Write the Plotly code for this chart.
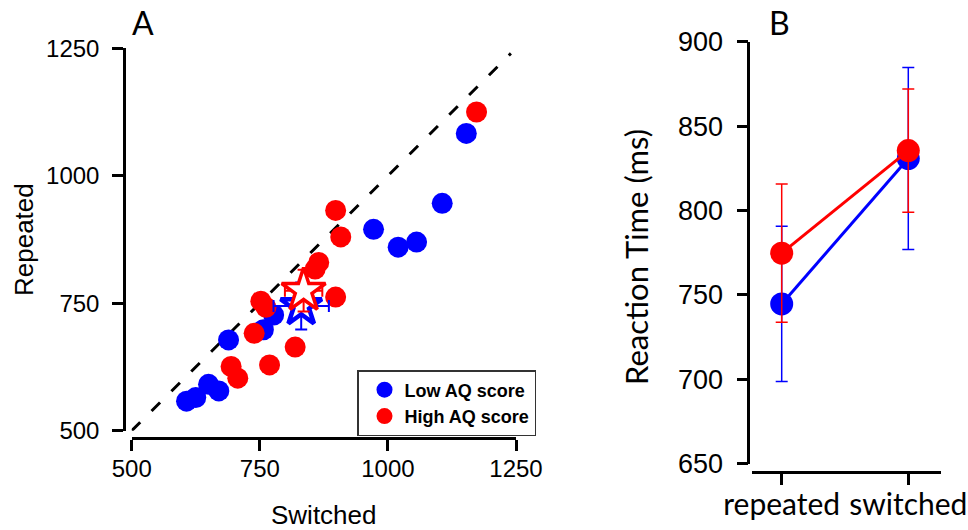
import plotly.graph_objects as go

W, H = 968, 530

# Panel A: individual participants (switched vs repeated RT, ms)
low_switched = [1153, 1106, 972, 1020, 1056, 689, 777, 757, 607, 625, 650, 670]
low_repeated = [1083, 946, 895, 860, 870, 678, 727, 698, 558, 565, 591, 578]
high_switched = [1173, 898, 908, 865, 858, 898, 752, 762, 739, 819, 769, 694, 707]
high_repeated = [1125, 932, 880, 830, 817, 762, 754, 742, 691, 664, 629, 626, 603]

# Panel B: group means and error bars (ms)
conditions = ["repeated", "switched"]
low_mean = [744.6, 830.8]
low_err = [46.0, 54.0]
high_mean = [774.7, 835.5]
high_err = [41.0, 36.5]

identity = [500, 1240]
a_ticks = [500, 750, 1000, 1250]
b_ticks = [650, 700, 750, 800, 850, 900]

BLUE = "#0000FF"
RED = "#FF0000"
ARIAL = "Liberation Sans, Arial, sans-serif"
HUMAN = "Lato, Open Sans, sans-serif"


def px(x):
    return x / W


def py(y):
    return 1 - y / H


fig = go.Figure()

# identity line
fig.add_trace(go.Scatter(x=identity, y=identity, mode="lines",
                         line=dict(color="black", width=3, dash="12px,16px"),
                         showlegend=False, hoverinfo="skip"))
fig.add_trace(go.Scatter(x=low_switched, y=low_repeated, mode="markers", name="Low AQ score",
                         marker=dict(color=BLUE, size=21, line=dict(width=0))))
fig.add_trace(go.Scatter(x=high_switched, y=high_repeated, mode="markers", name="High AQ score",
                         marker=dict(color=RED, size=21, line=dict(width=0))))
# group means as stars
fig.add_trace(go.Scatter(x=[low_mean[1]], y=[low_mean[0]], mode="markers", showlegend=False,
                         error_x=dict(type="data", array=[low_err[1]], color=BLUE, thickness=2, width=6),
                         error_y=dict(type="data", array=[low_err[0]], color=BLUE, thickness=2, width=6),
                         marker=dict(symbol="star", size=31, color="white", line=dict(color=BLUE, width=4.5))))
fig.add_trace(go.Scatter(x=[high_mean[1]], y=[high_mean[0]], mode="markers", showlegend=False,
                         error_x=dict(type="data", array=[high_err[1]], color=RED, thickness=2, width=6),
                         error_y=dict(type="data", array=[high_err[0]], color=RED, thickness=2, width=6),
                         marker=dict(symbol="star", size=33, color="white", line=dict(color=RED, width=3.5))))

# Panel B
xb = [1, 2]
fig.add_trace(go.Scatter(x=xb, y=low_mean, mode="lines+markers", showlegend=False,
                         xaxis="x2", yaxis="y2",
                         line=dict(color=BLUE, width=3),
                         marker=dict(color=BLUE, size=23),
                         error_y=dict(type="data", array=low_err, color=BLUE, thickness=1.5, width=6)))
fig.add_trace(go.Scatter(x=xb, y=high_mean, mode="lines+markers", showlegend=False,
                         xaxis="x2", yaxis="y2",
                         line=dict(color=RED, width=3),
                         marker=dict(color=RED, size=23),
                         error_y=dict(type="data", array=high_err, color=RED, thickness=1.5, width=6)))

axis_common = dict(showgrid=False, zeroline=False, showline=True, linecolor="black", linewidth=2.5,
                   ticks="outside", ticklen=11, tickwidth=2.5, tickcolor="black",
                   automargin=False, tickangle=0)

fig.update_layout(
    width=W, height=H, margin=dict(l=0, r=0, t=0, b=0, autoexpand=False),
    paper_bgcolor="white", plot_bgcolor="white",
    xaxis=dict(domain=[px(131.7), px(516)], range=[500, 1250], anchor="free", position=py(438.3),
               tickvals=a_ticks, tickfont=dict(family=ARIAL, size=24, color="black"),
               ticklabelstandoff=-3, **axis_common),
    yaxis=dict(domain=[py(430.7), py(48.3)], range=[500, 1250], anchor="free", position=px(124),
               tickvals=a_ticks, tickfont=dict(family=ARIAL, size=24, color="black"),
               ticklabelstandoff=8, **axis_common),
    xaxis2=dict(domain=[px(751.7), px(940.7)], range=[0.763, 2.256], anchor="free", position=py(472.3),
                tickvals=xb, ticktext=conditions, tickfont=dict(family=HUMAN, size=30, color="black"),
                ticklabelstandoff=-6, **axis_common),
    yaxis2=dict(domain=[py(463.5), py(41.8)], range=[650, 900], anchor="free", position=px(748.3),
                tickvals=b_ticks, tickfont=dict(family=ARIAL, size=27, color="black"),
                ticklabelstandoff=8, **axis_common),
    legend=dict(x=px(357), y=py(370), xanchor="left", yanchor="top",
                bgcolor="white", bordercolor="#333333", borderwidth=1.5,
                font=dict(family=ARIAL, size=18, color="black", weight="bold"),
                itemsizing="trace", tracegroupgap=0, indentation=6),
    showlegend=True,
)

annotations = [
    dict(text="A", x=px(143), y=py(23), font=dict(family=HUMAN, size=32, color="black")),
    dict(text="B", x=px(779), y=py(23), font=dict(family=HUMAN, size=32, color="black")),
    dict(text="Switched", x=px(324), y=py(515), font=dict(family=ARIAL, size=26, color="black")),
    dict(text="Repeated", x=px(24), y=py(240), textangle=-90, font=dict(family=ARIAL, size=26, color="black")),
    dict(text="Reaction Time (ms)", x=px(636), y=py(257), textangle=-90,
         font=dict(family=HUMAN, size=31, color="black")),
]
for a in annotations:
    a.update(xref="paper", yref="paper", showarrow=False, xanchor="center", yanchor="middle")
fig.update_layout(annotations=annotations)

fig.write_html("out.html")
